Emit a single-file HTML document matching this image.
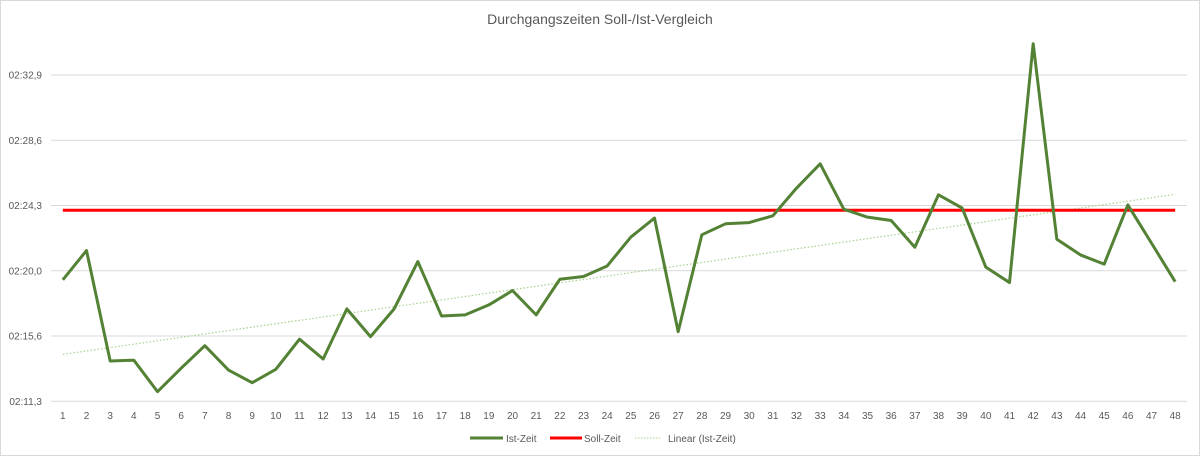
<!DOCTYPE html>
<html><head><meta charset="utf-8"><style>
body{margin:0;background:#fff;}
svg{display:block;font-family:"Liberation Sans",sans-serif;}
</style></head><body>
<svg id="chart" width="1200" height="457" viewBox="0 0 1200 457">
<rect x="0.5" y="0.5" width="1199" height="455" fill="#fff" stroke="#d9d9d9"/>
<text x="600" y="24" text-anchor="middle" font-size="14" fill="#595959">Durchgangszeiten Soll-/Ist-Vergleich</text>
<g id="grid"></g>
<g id="yaxis"></g>
<g id="xaxis"></g>
<g id="series"></g>
<g>
<g><line x1="470" y1="438" x2="503" y2="438" stroke="#548235" stroke-width="3"/><text x="506" y="442" font-size="10" fill="#595959">Ist-Zeit</text></g>
<g><line x1="550" y1="438" x2="582" y2="438" stroke="#ff0000" stroke-width="3"/><text x="584" y="442" font-size="10" fill="#595959">Soll-Zeit</text></g>
<g><line x1="635" y1="438" x2="660" y2="438" stroke="#a9d18e" stroke-width="1" stroke-dasharray="1.5,1.5"/><text x="668" y="442" font-size="10" fill="#595959">Linear (Ist-Zeit)</text></g>
</g>
</svg>
<script>
const categories = Array.from({length:48},(_,i)=>String(i+1));
const istZeit = [139.37,141.31,134.0,134.05,131.97,133.52,135.01,133.40,132.56,133.45,135.44,134.13,137.45,135.61,137.45,140.58,136.98,137.05,137.71,138.66,137.05,139.41,139.59,140.29,142.2,143.46,135.94,142.35,143.08,143.16,143.61,145.44,147.05,144.05,143.52,143.3,141.53,145.0,144.12,140.21,139.19,155.0,142.06,141.02,140.41,144.33,141.8,139.25];
const sollZeit = 143.98;
const yTickValues = [131.33,135.65,139.97,144.29,148.61,152.93];
const yTickLabels = ["02:11,3","02:15,6","02:20,0","02:24,3","02:28,6","02:32,9"];

const NS="http://www.w3.org/2000/svg";
const yMin=131.33, yMax=152.93, yBot=401.3, yTop=75;
const xL=51, xR=1187;
const step=(xR-xL)/categories.length;
function xS(i){return xL+step*(i+0.5);}
function yS(v){return yBot-(v-yMin)/(yMax-yMin)*(yBot-yTop);}
function mk(tag,attrs,parent){const e=document.createElementNS(NS,tag);for(const k in attrs)e.setAttribute(k,attrs[k]);parent.appendChild(e);return e;}
const grid=document.getElementById('grid'),ya=document.getElementById('yaxis'),xa=document.getElementById('xaxis'),ser=document.getElementById('series');
yTickValues.forEach((v,i)=>{
  const y=yS(v);
  const l=mk('line',{x1:xL,x2:xR,y1:y,y2:y,stroke:'#d9d9d9','stroke-width':1},grid);
  
  
  const t=mk('text',{x:42,y:y+3.5,'text-anchor':'end','font-size':10,fill:'#595959'},ya);
  t.textContent=yTickLabels[i];
  
  
});
categories.forEach((c,i)=>{
  const t=mk('text',{x:xS(i),y:419,'text-anchor':'middle','font-size':10,fill:'#595959'},xa);
  t.textContent=c;
  
  
});
// trendline (linear regression)
const n=istZeit.length;let sx=0,sy=0,sxy=0,sxx=0;
istZeit.forEach((v,i)=>{sx+=i;sy+=v;sxy+=i*v;sxx+=i*i;});
const b=(n*sxy-sx*sy)/(n*sxx-sx*sx),a=(sy-b*sx)/n;
const tr=mk('line',{x1:xS(0),y1:yS(a),x2:xS(n-1),y2:yS(a+b*(n-1)),stroke:'#a9d18e','stroke-width':1.2,'stroke-dasharray':'1.5,2'},ser);


const sl=mk('line',{x1:xS(0),y1:yS(sollZeit),x2:xS(n-1),y2:yS(sollZeit),stroke:'#ff0000','stroke-width':3},ser);


const p=mk('polyline',{points:istZeit.map((v,i)=>xS(i)+','+yS(v)).join(' '),fill:'none',stroke:'#548235','stroke-width':3,'stroke-linejoin':'round'},ser);


</script>
</body></html>
